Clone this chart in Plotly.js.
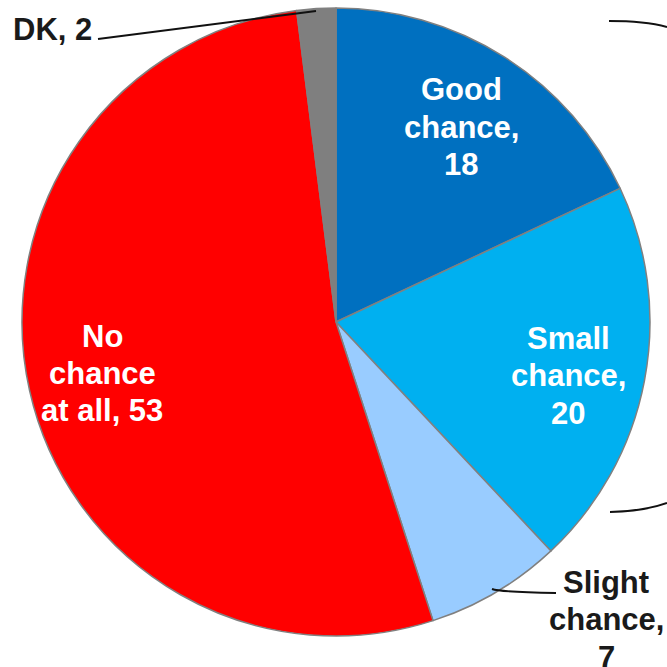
<!DOCTYPE html>
<html>
<head>
<meta charset="utf-8">
<script src="https://cdn.plot.ly/plotly-3.0.1.min.js"></script>
<style>html,body{margin:0;padding:0;background:#fff;}#chart{width:667px;height:667px;}</style>
</head>
<body>
<div id="chart"></div>
<script>
var categories = ["Good chance", "Small chance", "Slight chance", "No chance at all", "DK"];
var values = [18, 20, 7, 53, 2];
var colors = ["#0070C0", "#00B0F0", "#99CCFF", "#FF0000", "#7F7F7F"];
var labelLines = [["Good", "chance,", "18"], ["Small", "chance,", "20"], ["Slight", "chance,", "7"], ["No", "chance", "at all, 53"], ["DK, 2"]];

var W = 667, H = 667;
function px(x){ return x / W; }
function py(y){ return 1 - y / H; }

// label placement (pixels: centre x, first-line y) and colours
var labelPos = [[461, 90], [568, 338], [606, 582], [102, 336], [52, 30]];
var labelColors = ["#ffffff", "#ffffff", "#1a1a1a", "#ffffff", "#1a1a1a"];
var lineStep = 37.5;

var annotations = [];
labelLines.forEach(function(lines, i){
  lines.forEach(function(t, k){
    annotations.push({
      text: t, x: px(labelPos[i][0]), y: py(labelPos[i][1] + k * lineStep),
      xref: "paper", yref: "paper", showarrow: false,
      xanchor: "center", yanchor: "middle", align: "center",
      font: {family: "Liberation Sans, Arial, sans-serif", size: 31, color: labelColors[i], weight: "bold"}
    });
  });
});

function P(x, y){ return px(x) + "," + py(y); }

var shapes = [
  {type: "path", xref: "paper", yref: "paper", path: "M" + P(98, 39) + " L" + P(316, 11), line: {color: "#111", width: 2}},
  {type: "path", xref: "paper", yref: "paper", path: "M" + P(492, 589) + " Q" + P(500, 592) + " " + P(556, 593), line: {color: "#111", width: 2}},
  {type: "path", xref: "paper", yref: "paper", path: "M" + P(609, 21) + " Q" + P(645, 21) + " " + P(667, 27), line: {color: "#111", width: 2}},
  {type: "path", xref: "paper", yref: "paper", path: "M" + P(610, 512) + " Q" + P(645, 511) + " " + P(667, 503), line: {color: "#111", width: 2}}
];

var data = [{
  type: "pie",
  labels: categories,
  values: values,
  sort: false,
  direction: "clockwise",
  rotation: 0,
  textinfo: "none",
  hoverinfo: "label+value",
  marker: {colors: colors, line: {color: "#808080", width: 1.5}},
  domain: {x: [22 / W, 650 / W], y: [py(636), py(8)]},
  showlegend: false
}];

var layout = {
  width: W, height: H,
  margin: {l: 0, r: 0, t: 0, b: 0},
  paper_bgcolor: "#ffffff",
  showlegend: false,
  annotations: annotations,
  shapes: shapes
};

Plotly.newPlot("chart", data, layout, {displayModeBar: false, staticPlot: true});
</script>
</body>
</html>
